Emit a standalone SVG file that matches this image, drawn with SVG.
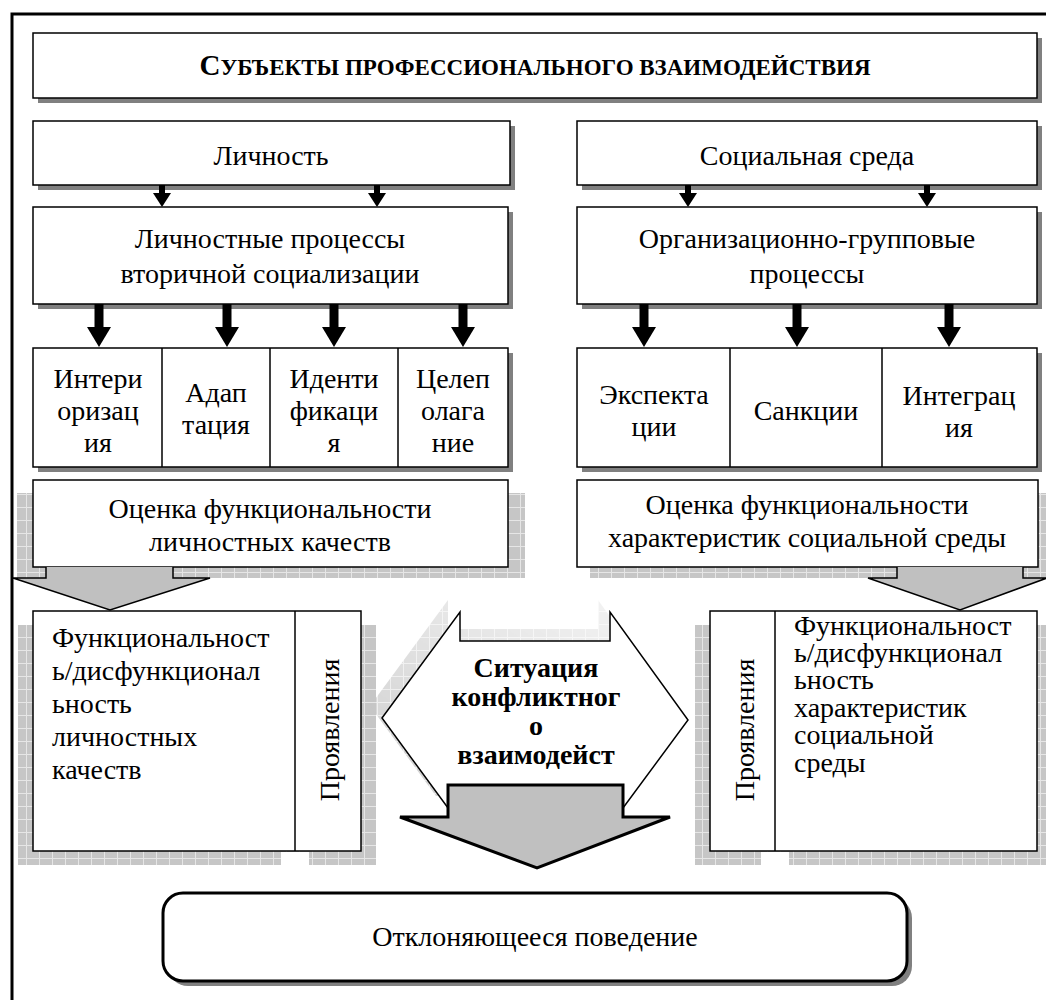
<svg xmlns="http://www.w3.org/2000/svg" width="1046" height="1000" viewBox="0 0 1046 1000">
<style>
.box{fill:#fff;stroke:#000;stroke-width:1.5}
.sh{fill:#808080}
.t{font-family:'Liberation Serif','Times New Roman','DejaVu Serif',serif;font-size:28px;fill:#000}
.c{text-anchor:middle}
.b{font-weight:bold}
.grid{fill:url(#grid)}
.ga{fill:#c0c0c0;stroke:#000;stroke-width:1.5;stroke-linejoin:miter}
.thin{stroke:#000;stroke-width:6}
.thick{stroke:#000;stroke-width:9}
</style>
<defs>
<pattern id="grid" width="13" height="13" patternUnits="userSpaceOnUse">
<rect width="13" height="13" fill="#c6c6c6"/>
<path d="M0,0.5H13M0.5,0V13" stroke="#e6e6e6" stroke-width="1"/>
</pattern>
<linearGradient id="fadeg" x1="0" y1="1" x2="1" y2="0">
<stop offset="0" stop-color="#fff" stop-opacity="0.9"/>
<stop offset="1" stop-color="#fff" stop-opacity="0.1"/>
</linearGradient>
<mask id="fade" maskContentUnits="userSpaceOnUse">
<rect x="360" y="590" width="340" height="230" fill="url(#fadeg)"/>
</mask>
<marker id="ahThin" markerUnits="userSpaceOnUse" markerWidth="14" markerHeight="18" refX="0" refY="9" orient="auto" viewBox="0 0 14 18">
<path d="M0,0 L14,9 L0,18 z" fill="#000"/>
</marker>
<marker id="ahThick" markerUnits="userSpaceOnUse" markerWidth="20" markerHeight="24" refX="0" refY="12" orient="auto" viewBox="0 0 20 24">
<path d="M0,0 L20,12 L0,24 z" fill="#000"/>
</marker>
</defs>
<rect width="1046" height="1000" fill="#fff"/>
<path d="M12,1002 V14 H1050" fill="none" stroke="#000" stroke-width="3"/>

<g id="title">
<rect class="sh" x="38" y="38" width="1004" height="65"/>
<rect class="box" x="33" y="33" width="1004" height="65"/>
<text class="t c b" x="535" y="75"><tspan font-size="29">С</tspan><tspan font-size="23">УБЪЕКТЫ ПРОФЕССИОНАЛЬНОГО ВЗАИМОДЕЙСТВИЯ</tspan></text>
</g>

<g id="lichnost">
<rect class="sh" x="38" y="126" width="477" height="64"/>
<rect class="box" x="33" y="121" width="477" height="64"/>
<text class="t c" x="271" y="165">Личность</text>
</g>
<g id="socsreda">
<rect class="sh" x="582" y="126" width="460" height="64"/>
<rect class="box" x="577" y="121" width="460" height="64"/>
<text class="t c" x="807" y="165">Социальная среда</text>
</g>

<g id="lichproc">
<rect class="sh" x="38" y="212" width="475" height="97"/>
<rect class="box" x="33" y="207" width="475" height="97"/>
<text class="t c" x="270" y="248">Личностные процессы</text>
<text class="t c" x="270" y="283">вторичной социализации</text>
</g>
<g id="orgproc">
<rect class="sh" x="582" y="212" width="460" height="97"/>
<rect class="box" x="577" y="207" width="460" height="97"/>
<text class="t c" x="807" y="248">Организационно-групповые</text>
<text class="t c" x="807" y="283">процессы</text>
</g>

<g id="leftcells">
<rect class="sh" x="38" y="353" width="475" height="119"/>
<rect class="box" x="33" y="348" width="475" height="119"/>
<path d="M162,348V467M270,348V467M398,348V467" stroke="#000" stroke-width="1.5"/>
<text class="t c" x="98" y="388">Интери</text>
<text class="t c" x="98" y="420">оризац</text>
<text class="t c" x="98" y="452">ия</text>
<text class="t c" x="216" y="402">Адап</text>
<text class="t c" x="216" y="434">тация</text>
<text class="t c" x="334" y="388">Иденти</text>
<text class="t c" x="334" y="420">фикаци</text>
<text class="t c" x="334" y="452">я</text>
<text class="t c" x="453" y="388">Целеп</text>
<text class="t c" x="453" y="420">олага</text>
<text class="t c" x="453" y="452">ние</text>
</g>
<g id="rightcells">
<rect class="sh" x="582" y="353" width="460" height="119"/>
<rect class="box" x="577" y="348" width="460" height="119"/>
<path d="M730,348V467M882,348V467" stroke="#000" stroke-width="1.5"/>
<text class="t c" x="654" y="404">Экспекта</text>
<text class="t c" x="654" y="436">ции</text>
<text class="t c" x="806" y="420">Санкции</text>
<text class="t c" x="959" y="405">Интеграц</text>
<text class="t c" x="959" y="437">ия</text>
</g>

<g id="ocenkaL">
<rect class="grid" x="17" y="493" width="508" height="85"/>
<rect class="box" x="33" y="480" width="475" height="87"/>
<path class="ga" d="M46,567 V578 H13 L110,610 L210,578 H173 V567"/>
<text class="t c" x="270" y="518">Оценка функциональности</text>
<text class="t c" x="270" y="551">личностных качеств</text>
</g>
<g id="ocenkaR">
<rect class="grid" x="590" y="493" width="456" height="85"/>
<rect class="box" x="577" y="480" width="461" height="87"/>
<path class="ga" d="M897,567 V578 H868 L960,610 L1047,578 H1023 V567"/>
<text class="t c" x="807" y="514">Оценка функциональности</text>
<text class="t c" x="807" y="547">характеристик социальной среды</text>
</g>

<g id="funcL">
<rect class="grid" x="18" y="625" width="358" height="240"/>
<rect x="281" y="852" width="28" height="14" fill="#fff"/>
<rect class="box" x="33" y="611" width="328" height="240"/>
<path d="M295,611V851" stroke="#000" stroke-width="1.5"/>
<text class="t" x="52" y="647">Функциональност</text>
<text class="t" x="52" y="680">ь/дисфункционал</text>
<text class="t" x="52" y="713">ьность</text>
<text class="t" x="52" y="746">личностных</text>
<text class="t" x="52" y="779">качеств</text>
<text class="t c" transform="translate(339,730) rotate(-90)">Проявления</text>
</g>
<g id="funcR">
<rect class="grid" x="695" y="625" width="351" height="240"/>
<rect x="761" y="852" width="28" height="14" fill="#fff"/>
<rect class="box" x="710" y="611" width="327" height="240"/>
<path d="M775,611V851" stroke="#000" stroke-width="1.5"/>
<text class="t" x="794" y="635">Функциональност</text>
<text class="t" x="794" y="662">ь/дисфункционал</text>
<text class="t" x="794" y="689">ьность</text>
<text class="t" x="794" y="717">характеристик</text>
<text class="t" x="794" y="744">социальной</text>
<text class="t" x="794" y="772">среды</text>
<text class="t c" transform="translate(754,730) rotate(-90)">Проявления</text>
</g>

<g id="situation">
<polygon class="grid" mask="url(#fade)" points="370,706 448,600 448,629 598,629 598,600 676,708 611,796 436,796"/>
<polygon points="382,718 460,612 460,641 610,641 610,612 688,720 623,808 448,808" fill="#fff" stroke="#000" stroke-width="1.5"/>
<path d="M448,785 H623 V817 H670 L537,868 L400,817 H448 Z" fill="#c0c0c0" stroke="#000" stroke-width="3" stroke-linejoin="miter"/>
<text class="t c b" x="536" y="677">Ситуация</text>
<text class="t c b" x="536" y="706">конфликтног</text>
<text class="t c b" x="536" y="735">о</text>
<text class="t c b" x="536" y="764">взаимодейст</text>
</g>

<g id="deviant">
<rect x="168" y="898" width="744" height="88" rx="20" fill="#808080"/>
<rect x="163" y="893" width="744" height="88" rx="20" fill="#fff" stroke="#000" stroke-width="3"/>
<text class="t c" x="535" y="946">Отклоняющееся поведение</text>
</g>

<g id="connectors">
<line class="thin" x1="162" y1="185" x2="162" y2="193" marker-end="url(#ahThin)"/>
<line class="thin" x1="377" y1="185" x2="377" y2="193" marker-end="url(#ahThin)"/>
<line class="thin" x1="688" y1="185" x2="688" y2="193" marker-end="url(#ahThin)"/>
<line class="thin" x1="927" y1="185" x2="927" y2="193" marker-end="url(#ahThin)"/>
<line class="thick" x1="99" y1="304" x2="99" y2="327" marker-end="url(#ahThick)"/>
<line class="thick" x1="227" y1="304" x2="227" y2="327" marker-end="url(#ahThick)"/>
<line class="thick" x1="334" y1="304" x2="334" y2="327" marker-end="url(#ahThick)"/>
<line class="thick" x1="463" y1="304" x2="463" y2="327" marker-end="url(#ahThick)"/>
<line class="thick" x1="644" y1="304" x2="644" y2="327" marker-end="url(#ahThick)"/>
<line class="thick" x1="797" y1="304" x2="797" y2="327" marker-end="url(#ahThick)"/>
<line class="thick" x1="949" y1="304" x2="949" y2="327" marker-end="url(#ahThick)"/>
</g>
</svg>
